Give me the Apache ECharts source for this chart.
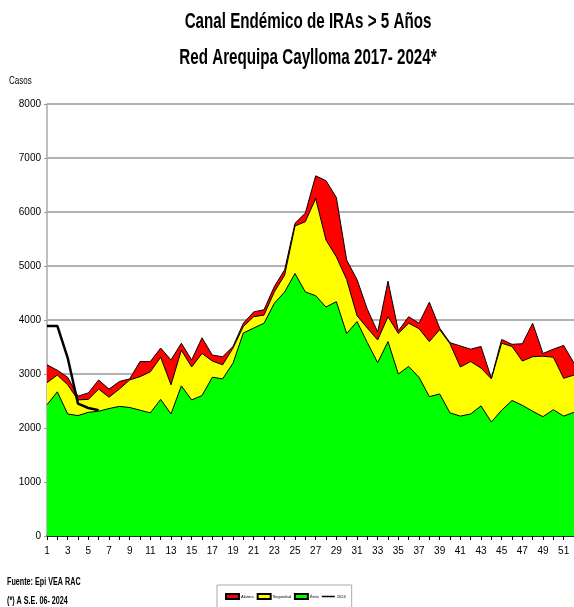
<!DOCTYPE html>
<html>
<head>
<meta charset="utf-8">
<script src="https://cdn.jsdelivr.net/npm/echarts@6/dist/echarts.min.js"></script>
<style>
  html, body { margin: 0; padding: 0; background: #fff; }
  #chart { width: 574px; height: 607px; }
</style>
</head>
<body>
<div id="chart"></div>
<script>
// semanas epidemiologicas
var semanas = [];
for (var i = 1; i <= 52; i++) semanas.push(String(i));

// zona de alarma (limite superior)
var alarma = [3170, 3070, 2940, 2590, 2650, 2890, 2720, 2860, 2910, 3230,
  3230, 3480, 3260, 3570, 3260, 3670, 3350, 3320, 3510, 3940,
  4150, 4190, 4620, 4930, 5790, 5980, 6670, 6580, 6270, 5110,
  4750, 4200, 3780, 4720, 3800, 4060, 3940, 4330, 3850, 3580,
  3520, 3460, 3510, 2920, 3640, 3550, 3560, 3940, 3380, 3460,
  3530, 3200];
// zona de seguridad
var seguridad = [2840, 2980, 2800, 2520, 2530, 2720, 2570, 2720, 2890, 2950,
  3040, 3310, 2800, 3440, 3130, 3380, 3240, 3170, 3480, 3880,
  4060, 4090, 4520, 4830, 5740, 5820, 6250, 5480, 5170, 4750,
  4080, 3850, 3630, 4060, 3750, 3940, 3840, 3600, 3820, 3560,
  3130, 3230, 3110, 2910, 3570, 3510, 3240, 3320, 3330, 3310,
  2920, 2980];
// zona de exito
var exito = [2430, 2670, 2260, 2230, 2290, 2310, 2360, 2400, 2380, 2330,
  2280, 2530, 2260, 2780, 2520, 2600, 2940, 2910, 3200, 3760,
  3850, 3940, 4310, 4520, 4860, 4520, 4450, 4240, 4340, 3750,
  3970, 3580, 3210, 3600, 3000, 3140, 2940, 2580, 2630, 2280,
  2220, 2260, 2410, 2110, 2330, 2510, 2420, 2310, 2210, 2340,
  2220, 2290];
// casos 2024 (hasta S.E. 06)
var casos2024 = [3890, 3890, 3300, 2450, 2370, 2330];

var fuente = '"Liberation Sans", Arial, sans-serif';

var chart = echarts.init(document.getElementById("chart"));

function zona(nombre, color, datos) {
  return {
    name: nombre,
    type: "line",
    data: datos,
    symbol: "none",
    silent: true,
    lineStyle: { color: "#000", width: 1 },
    itemStyle: { color: color, borderColor: "#000", borderWidth: 1 },
    areaStyle: { color: color, opacity: 1 }
  };
}

// texto angosto (la fuente original es tipo Arial Narrow)
function texto(t, x, y, size, bold, escala, align) {
  return {
    type: "text",
    x: x,
    y: y,
    scaleX: escala,
    style: {
      text: t,
      fontSize: size,
      fontWeight: bold ? "bold" : "normal",
      fontFamily: fuente,
      fill: "#000",
      align: align || "left",
      verticalAlign: "middle"
    }
  };
}

chart.setOption({
  animation: false,
  legend: {
    left: 217,
    top: 585,
    padding: [8, 6, 8, 8],
    borderColor: "#aaa",
    borderWidth: 1,
    itemWidth: 13,
    itemHeight: 5,
    itemGap: 3,
    textStyle: { fontSize: 4, color: "#000", fontFamily: fuente, padding: [0, 0, 0, -3] },
    data: [
      { name: "Alarma", icon: "rect" },
      { name: "Seguridad", icon: "rect" },
      { name: "Éxito", icon: "rect" },
      { name: "2024", icon: "path://M0,4L13,4L13,5.5L0,5.5Z" }
    ]
  },
  grid: { left: 47, right: -4, top: 104, bottom: 71 },
  xAxis: {
    type: "category",
    data: semanas,
    boundaryGap: false,
    axisLine: { lineStyle: { color: "#000", width: 1.5 } },
    axisTick: { show: true, interval: 0, length: 4, lineStyle: { color: "#000" } },
    axisLabel: { interval: 1, color: "#000", fontSize: 10, fontFamily: fuente, margin: 10 }
  },
  yAxis: {
    type: "value",
    min: 0,
    max: 8000,
    interval: 1000,
    axisLine: { show: true, lineStyle: { color: "#aaa", width: 1.5 } },
    axisTick: { show: true, length: 3, lineStyle: { color: "#999" } },
    axisLabel: { color: "#000", fontSize: 10, fontFamily: fuente, margin: 6, formatter: function (v) { return String(v); } },
    splitLine: { lineStyle: { color: "#999", width: 1.5 } }
  },
  graphic: [
    texto("Canal Endémico de IRAs > 5 Años", 308, 22, 22, true, 0.69, "center"),
    texto("Red Arequipa Caylloma 2017- 2024*", 308, 58, 22, true, 0.69, "center"),
    texto("Casos", 9, 81, 10, false, 0.8),
    texto("S.E", 553, 437, 10, false, 0.8),
    texto("Fuente: Epi VEA RAC", 7, 582, 10, true, 0.72),
    texto("(*) A S.E. 06- 2024", 7, 601, 10, true, 0.72)
  ],
  series: [
    zona("Alarma", "#ff0000", alarma),
    zona("Seguridad", "#ffff00", seguridad),
    zona("Éxito", "#00ff00", exito),
    {
      name: "2024",
      type: "line",
      data: casos2024,
      symbol: "none",
      itemStyle: { color: "#000" },
      lineStyle: { color: "#000", width: 2.5 },
      z: 5
    }
  ]
});
</script>
</body>
</html>
